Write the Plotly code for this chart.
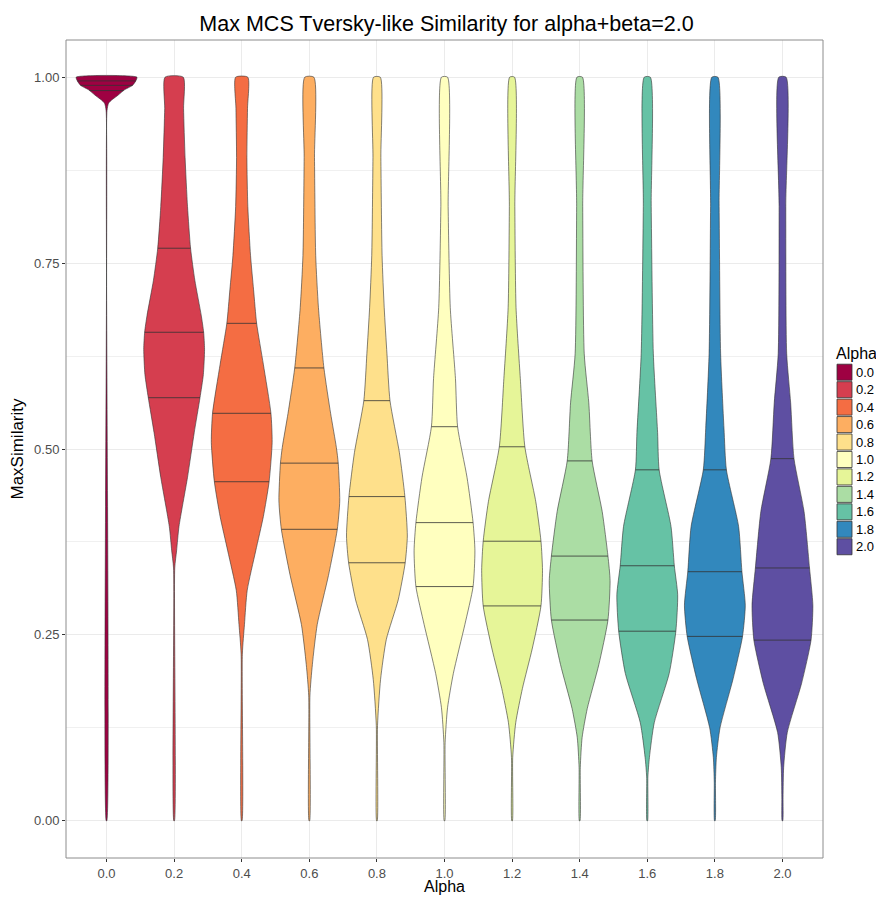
import numpy as np
import plotly.graph_objects as go

# ---------------- data ----------------
alpha_labels = ["0.0", "0.2", "0.4", "0.6", "0.8", "1.0", "1.2", "1.4", "1.6", "1.8", "2.0"]
fill_colors = ["#9E0142", "#D53E4F", "#F46D43", "#FDAE61", "#FEE08B", "#FFFFBF",
               "#E6F598", "#ABDDA4", "#66C2A5", "#3288BD", "#5E4FA2"]

# density profiles: similarity levels and relative (scaled) density widths
lv_00 = [1.0, 0.995, 0.989, 0.983, 0.976, 0.969, 0.965, 0.955, 0.0]
dw_00 = [1.0, 0.96, 0.855, 0.59, 0.385, 0.16, 0.066, 0.015, 0.01]
lv_02 = [1.0, 0.958, 0.892, 0.826, 0.77, 0.727, 0.68, 0.657, 0.634, 0.60, 0.569, 0.522, 0.462, 0.396, 0.363, 0.34, 0.0]
dw_02 = [0.30, 0.31, 0.36, 0.44, 0.54, 0.68, 0.89, 0.97, 1.0, 0.96, 0.85, 0.66, 0.44, 0.16, 0.08, 0.02, 0.01]
lv_04 = [1.0, 0.958, 0.892, 0.826, 0.76, 0.714, 0.669, 0.614, 0.548, 0.509, 0.456, 0.409, 0.363, 0.31, 0.264, 0.224, 0.0]
dw_04 = [0.20, 0.19, 0.17, 0.20, 0.29, 0.39, 0.49, 0.71, 0.96, 1.0, 0.90, 0.71, 0.46, 0.18, 0.09, 0.02, 0.01]
lv_06 = [1.0, 0.892, 0.76, 0.69, 0.609, 0.548, 0.502, 0.481, 0.43, 0.392, 0.33, 0.264, 0.21, 0.168, 0.0]
dw_06 = [0.15, 0.17, 0.21, 0.30, 0.48, 0.70, 0.89, 0.95, 1.0, 0.92, 0.63, 0.26, 0.10, 0.02, 0.01]
lv_08 = [1.0, 0.892, 0.76, 0.69, 0.628, 0.565, 0.495, 0.436, 0.383, 0.347, 0.297, 0.244, 0.19, 0.128, 0.0]
dw_08 = [0.11, 0.13, 0.17, 0.24, 0.33, 0.43, 0.74, 0.92, 1.0, 0.93, 0.70, 0.31, 0.12, 0.02, 0.01]
lv_10 = [1.0, 0.826, 0.69, 0.595, 0.53, 0.462, 0.401, 0.363, 0.315, 0.264, 0.198, 0.152, 0.105, 0.0]
dw_10 = [0.10, 0.12, 0.19, 0.36, 0.43, 0.74, 0.94, 1.0, 0.94, 0.67, 0.29, 0.10, 0.02, 0.01]
lv_12 = [1.0, 0.826, 0.69, 0.595, 0.503, 0.429, 0.376, 0.337, 0.289, 0.231, 0.178, 0.132, 0.085, 0.0]
dw_12 = [0.08, 0.09, 0.13, 0.27, 0.42, 0.78, 0.95, 1.0, 0.95, 0.66, 0.34, 0.12, 0.02, 0.01]
lv_14 = [1.0, 0.826, 0.628, 0.562, 0.484, 0.416, 0.356, 0.323, 0.27, 0.21, 0.151, 0.112, 0.072, 0.0]
dw_14 = [0.09, 0.10, 0.15, 0.30, 0.41, 0.74, 0.93, 1.0, 0.93, 0.63, 0.25, 0.08, 0.02, 0.01]
lv_16 = [1.0, 0.826, 0.628, 0.522, 0.472, 0.396, 0.343, 0.304, 0.255, 0.198, 0.132, 0.085, 0.059, 0.0]
dw_16 = [0.10, 0.13, 0.20, 0.34, 0.39, 0.78, 0.89, 1.0, 0.94, 0.72, 0.23, 0.07, 0.02, 0.01]
lv_18 = [1.0, 0.826, 0.628, 0.528, 0.472, 0.396, 0.335, 0.29, 0.248, 0.191, 0.125, 0.085, 0.052, 0.0]
dw_18 = [0.10, 0.14, 0.19, 0.30, 0.38, 0.78, 0.89, 1.0, 0.91, 0.60, 0.17, 0.05, 0.02, 0.01]
lv_20 = [1.0, 0.826, 0.628, 0.562, 0.487, 0.416, 0.34, 0.29, 0.243, 0.185, 0.119, 0.072, 0.032, 0.0]
dw_20 = [0.12, 0.11, 0.14, 0.27, 0.38, 0.71, 0.89, 1.0, 0.94, 0.63, 0.16, 0.04, 0.02, 0.01]

# quantiles drawn inside each violin
q25 = [0.982, 0.569, 0.456, 0.392, 0.347, 0.315, 0.289, 0.270, 0.255, 0.248, 0.243]
q50 = [0.989, 0.657, 0.548, 0.481, 0.436, 0.401, 0.376, 0.356, 0.343, 0.335, 0.340]
q75 = [0.995, 0.770, 0.669, 0.609, 0.565, 0.530, 0.503, 0.484, 0.472, 0.472, 0.487]

y_tick_vals = [0.0, 0.25, 0.50, 0.75, 1.00]
y_tick_text = ["0.00", "0.25", "0.50", "0.75", "1.00"]

levels = [lv_00, lv_02, lv_04, lv_06, lv_08, lv_10, lv_12, lv_14, lv_16, lv_18, lv_20]
widths = [dw_00, dw_02, dw_04, dw_06, dw_08, dw_10, dw_12, dw_14, dw_16, dw_18, dw_20]

# ---------------- figure ----------------
FONT = "Liberation Sans, Arial, sans-serif"
HALF = 0.45          # violin half-width (category units) at maximal density
OUTLINE = "#333333"
TICK_SIZE = 13
AXT_SIZE = 17

fig = go.Figure()
for i, lab in enumerate(alpha_labels):
    lv = np.array(levels[i], dtype=float)
    dw = np.array(widths[i], dtype=float)
    xs = np.concatenate([i + dw * HALF, (i - dw * HALF)[::-1], [i + dw[0] * HALF]])
    ys = np.concatenate([lv, lv[::-1], [lv[0]]])
    fig.add_trace(go.Scatter(
        x=xs, y=ys, mode="lines", fill="toself", fillcolor=fill_colors[i],
        line=dict(color=OUTLINE, width=0.6, shape="spline", smoothing=0.6),
        name=lab, showlegend=False, hoverinfo="skip"))
    # quantile lines
    qx, qy = [], []
    for q in (q25[i], q50[i], q75[i]):
        w = np.interp(q, lv[::-1], dw[::-1]) * HALF
        qx += [i - w, i + w, None]
        qy += [q, q, None]
    fig.add_trace(go.Scatter(x=qx, y=qy, mode="lines",
                             line=dict(color=OUTLINE, width=0.8),
                             showlegend=False, hoverinfo="skip"))

# page offset (body margin) and target panel position in screen pixels
OFF = 8
SW, SH = 884, 904
P_L, P_R, P_T, P_B = 66, 823, 40, 858
W, H = SW - 2 * OFF, SH - 2 * OFF
L, T = P_L - OFF, P_T - OFF
R, B = (W + OFF) - P_R, (H + OFF) - P_B
pw, ph = P_R - P_L, P_B - P_T

def px_x(x):
    return (x - P_L) / pw

def px_y(y):
    return (P_B - y) / ph

fig.update_layout(
    width=W, height=H,
    margin=dict(l=L, r=R, t=T, b=B, autoexpand=False),
    plot_bgcolor="white", paper_bgcolor="white",
    font=dict(family=FONT, color="#000000"),
    showlegend=False,
    title=dict(text="Max MCS Tversky-like Similarity for alpha+beta=2.0",
               x=px_x(446.5), xref="paper", xanchor="center",
               y=1 - (23 - OFF) / H, yref="container", yanchor="middle",
               font=dict(size=21.5, color="#000000", family=FONT)),
    xaxis=dict(range=[-0.6, 10.6], tickmode="array", automargin=False,
               tickvals=list(range(len(alpha_labels))), ticktext=alpha_labels,
               showgrid=True, gridcolor="#EBEBEB", gridwidth=1,
               zeroline=False, showline=False,
               ticks="outside", ticklen=3, tickcolor="#333333", tickwidth=1,
               tickfont=dict(size=TICK_SIZE, color="#4D4D4D", family=FONT)),
    yaxis=dict(range=[-0.05, 1.05], tickmode="array", automargin=False,
               tickvals=y_tick_vals, ticktext=y_tick_text,
               showgrid=True, gridcolor="#EBEBEB", gridwidth=1,
               minor=dict(tickvals=[0.125, 0.375, 0.625, 0.875], showgrid=True,
                          gridcolor="#F0F0F0", gridwidth=0.6, ticks=""),
               zeroline=False, showline=False,
               ticks="outside", ticklen=3, tickcolor="#333333", tickwidth=1,
               tickfont=dict(size=TICK_SIZE, color="#4D4D4D", family=FONT),
               title=dict(text="MaxSimilarity", font=dict(size=AXT_SIZE, color="#000000", family=FONT), standoff=6)),
)

# x-axis title placed explicitly below the tick labels
fig.add_annotation(text="Alpha", xref="paper", yref="paper",
                   x=0.5, y=px_y(896), xanchor="center", yanchor="bottom",
                   borderpad=0, showarrow=False,
                   font=dict(size=16, color="#000000", family=FONT))

# panel border
fig.add_shape(type="rect", xref="paper", yref="paper", x0=0, y0=0, x1=1, y1=1,
              line=dict(color="#8C8C8C", width=1), fillcolor="rgba(0,0,0,0)", layer="above")

# legend (drawn by hand to mimic ggplot keys)
fig.add_annotation(text="Alpha", xref="paper", yref="paper",
                   x=px_x(834), y=px_y(353), xanchor="left", yanchor="middle",
                   showarrow=False, font=dict(size=16, color="#000000", family=FONT))
key_top, key_h, key_w = 363.5, 17.45, 15
for i, lab in enumerate(alpha_labels):
    y0 = key_top + i * key_h
    fig.add_shape(type="rect", xref="paper", yref="paper",
                  x0=px_x(837), x1=px_x(837 + key_w),
                  y0=px_y(y0 + 0.7), y1=px_y(y0 + key_h - 0.7),
                  fillcolor=fill_colors[i], line=dict(color=OUTLINE, width=0.8))
    fig.add_annotation(text=lab, xref="paper", yref="paper",
                       x=px_x(854), y=px_y(y0 + key_h / 2), xanchor="left", yanchor="middle",
                       showarrow=False, font=dict(size=TICK_SIZE, color="#000000", family=FONT))

fig.write_html("out.html")
